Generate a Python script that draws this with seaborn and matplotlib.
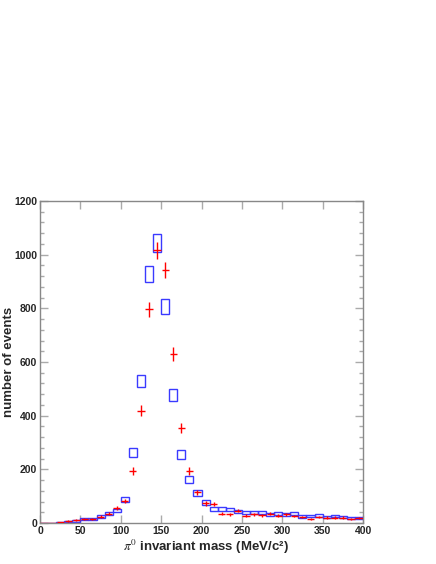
import numpy as np
import matplotlib
matplotlib.use("Agg")
import matplotlib.pyplot as plt
from matplotlib.ticker import MultipleLocator
import seaborn as sns

# Data: 10 MeV bins from 0 to 400
bin_edges = np.arange(0, 410, 10)
bin_centers = bin_edges[:-1] + 5

# blue (boxes) and red (crosses) counts per bin
blue_counts = [0, 0, 2.5, 5, 7.5, 14, 14, 24, 35, 46,
               88, 263, 528, 928, 1043, 806, 476, 256, 163, 111,
               76, 53, 53, 50, 42, 40, 40, 38, 31, 34,
               31, 34, 25, 26, 29, 22, 26, 22, 19, 19]
red_counts = [0, 0, 3.5, 8, 10, 14, 14, 24, 35, 55,
              82, 193, 419, 796, 1017, 943, 629, 354, 193, 114,
              73, 71, 34, 32, 46, 27, 32, 29, 35, 27,
              32, 26, 22, 16, 22, 20, 20, 20, 15, 19]

blue_counts = np.array(blue_counts)
red_counts = np.array(red_counts)
blue_err = np.sqrt(blue_counts)
red_err = np.sqrt(red_counts)

sns.set_style("ticks")
plt.rcParams['font.family'] = ['Liberation Sans', 'DejaVu Sans']
plt.rcParams['mathtext.fontset'] = 'stix'

fig = plt.figure(figsize=(4.36, 5.64), dpi=100)
ax = fig.add_axes([40 / 436, 41 / 564, 323 / 436, 322 / 564])

# error boxes
ax.bar(bin_centers, 2 * blue_err, bottom=blue_counts - blue_err, width=10,
       fill=False, edgecolor='#3a3aff', linewidth=1.0, zorder=2)
# error crosses
ax.errorbar(bin_centers, red_counts, xerr=4.5, yerr=red_err, fmt='none',
            ecolor='#ff0000', elinewidth=1.0, capsize=0, zorder=3)

ax.set_xlim(0, 400)
ax.set_ylim(0, 1200)
ax.xaxis.set_major_locator(MultipleLocator(50))
ax.yaxis.set_major_locator(MultipleLocator(200))
ax.yaxis.set_minor_locator(MultipleLocator(40))

for sp in ax.spines.values():
    sp.set_visible(True)
    sp.set_color('#888888')
    sp.set_linewidth(1.0)

ax.tick_params(which='both', direction='in', top=True, right=True,
               color='#aaaaaa', labelsize=7.5, pad=2)
ax.tick_params(which='major', length=6, width=1)
ax.tick_params(which='minor', length=3, width=1)
for lab in ax.get_xticklabels() + ax.get_yticklabels():
    lab.set_fontweight('bold')

ax.set_xlabel(r"$\pi^0$ invariant mass (MeV/c²)", fontsize=9.5,
              fontweight='bold')
ax.set_ylabel("number of events", fontsize=9.5, fontweight='bold')
ax.xaxis.set_label_coords(0.514, -0.045)
ax.yaxis.set_label_coords(-0.077, 0.5)

fig.savefig("out.png", dpi=100)
